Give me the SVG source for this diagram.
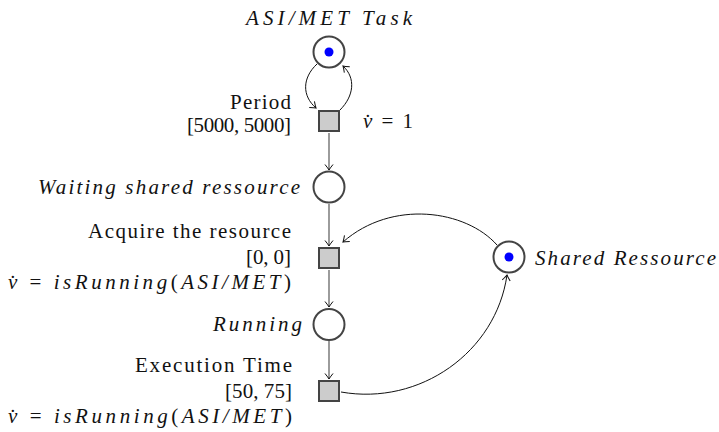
<svg xmlns="http://www.w3.org/2000/svg" width="719" height="432" viewBox="0 0 719 432">
  <style>
    .place { fill: #ffffff; stroke: #444444; stroke-width: 2; }
    .token { fill: #0000ff; }
    .trans { fill: #cccccc; stroke: #444444; stroke-width: 2; }
    text { font-family: "Liberation Serif", "DejaVu Serif", serif; font-size: 21px; fill: #111111; }
    .it { font-style: italic; }
    .edge { fill: none; stroke: #111111; stroke-width: 1; }
    .vedge { fill: none; stroke: #666666; stroke-width: 1.3; }
  </style>
  <defs>
    <marker id="arrow" markerUnits="userSpaceOnUse" markerWidth="12" markerHeight="12" refX="0" refY="0" viewBox="-7 -6 8 12" orient="auto">
      <path d="M-5.5,-4 Q-1.5,-0.8 0,0 Q-1.5,0.8 -5.5,4" fill="none" stroke="#111111" stroke-width="1"/>
    </marker>
  </defs>

  <!-- arcs between places and transitions -->
  <g id="connectors">
    <path class="edge" d="M317,64 C302,78 302,96 316,108" marker-end="url(#arrow)"/>
    <path class="edge" d="M340,110 C354,96 356,78 343,66" marker-end="url(#arrow)"/>
    <path class="vedge" d="M329,133 L329,170" marker-end="url(#arrow)"/>
    <path class="vedge" d="M329,204 L329,246" marker-end="url(#arrow)"/>
    <path class="vedge" d="M329,270 L329,307" marker-end="url(#arrow)"/>
    <path class="vedge" d="M329,341 L329,379" marker-end="url(#arrow)"/>
    <path class="edge" d="M497,245 C466,210 392,199 343,242" marker-end="url(#arrow)"/>
    <path class="edge" d="M341,392 C420,406 496,352 507,275" marker-end="url(#arrow)"/>
  </g>

  <!-- task place with one token -->
  <g id="task">
    <circle class="place" cx="329" cy="52" r="15.5"/>
    <circle class="token" cx="329" cy="52" r="4.5"/>
    <text class="it" x="329" y="25" text-anchor="middle" textLength="166" font-family="Liberation Serif, DejaVu Serif, serif">ASI/MET Task</text>
  </g>

  <!-- period transition -->
  <g id="period">
    <rect class="trans" x="319" y="111" width="20" height="20"/>
    <text x="291" y="109" text-anchor="end" textLength="61" font-family="Liberation Serif, DejaVu Serif, serif">Period</text>
    <text x="291" y="132" text-anchor="end" textLength="104" font-family="Liberation Serif, DejaVu Serif, serif">[5000, 5000]</text>
    <text x="363" y="128" textLength="50" font-family="Liberation Serif, DejaVu Serif, serif"><tspan class="it">v̇</tspan> = 1</text>
  </g>

  <!-- waiting place -->
  <g id="waiting">
    <circle class="place" cx="329" cy="187" r="15.5"/>
    <text class="it" x="300" y="194" text-anchor="end" textLength="262" font-family="Liberation Serif, DejaVu Serif, serif">Waiting shared ressource</text>
  </g>

  <!-- acquire transition -->
  <g id="acquire">
    <rect class="trans" x="319" y="248" width="20" height="20"/>
    <text x="291" y="238" text-anchor="end" textLength="203" font-family="Liberation Serif, DejaVu Serif, serif">Acquire the resource</text>
    <text x="291" y="264" text-anchor="end" textLength="45" font-family="Liberation Serif, DejaVu Serif, serif">[0, 0]</text>
    <text x="291" y="289" text-anchor="end" textLength="283" font-family="Liberation Serif, DejaVu Serif, serif"><tspan class="it">v̇</tspan> = <tspan class="it">isRunning</tspan>(<tspan class="it">ASI/MET</tspan>)</text>
  </g>

  <!-- running place -->
  <g id="running">
    <circle class="place" cx="329" cy="324.5" r="15.5"/>
    <text class="it" x="302" y="331" text-anchor="end" textLength="89" font-family="Liberation Serif, DejaVu Serif, serif">Running</text>
  </g>

  <!-- execution transition -->
  <g id="execution">
    <rect class="trans" x="319" y="381" width="20" height="20"/>
    <text x="292" y="372" text-anchor="end" textLength="157" font-family="Liberation Serif, DejaVu Serif, serif">Execution Time</text>
    <text x="292" y="398" text-anchor="end" textLength="67" font-family="Liberation Serif, DejaVu Serif, serif">[50, 75]</text>
    <text x="292" y="423" text-anchor="end" textLength="284" font-family="Liberation Serif, DejaVu Serif, serif"><tspan class="it">v̇</tspan> = <tspan class="it">isRunning</tspan>(<tspan class="it">ASI/MET</tspan>)</text>
  </g>

  <!-- shared resource place with one token -->
  <g id="shared">
    <circle class="place" cx="509" cy="257" r="15.5"/>
    <circle class="token" cx="509" cy="257" r="4.5"/>
    <text class="it" x="535" y="265" textLength="181" font-family="Liberation Serif, DejaVu Serif, serif">Shared Ressource</text>
  </g>
</svg>
